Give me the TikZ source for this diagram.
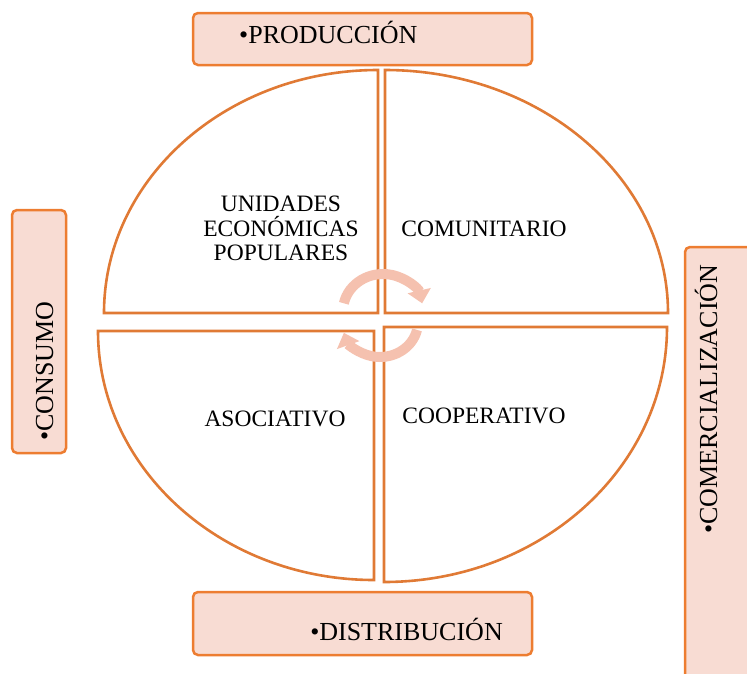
\documentclass[tikz,border=0pt]{standalone}
\usepackage{fontspec}
\setmainfont{Liberation Serif}
\usetikzlibrary{arrows.meta}
\definecolor{qline}{HTML}{E07A35}
\definecolor{bline}{HTML}{ED7D31}
\definecolor{bfill}{HTML}{F8DCD3}
\definecolor{arr}{HTML}{F5C1AF}
\begin{document}
\begin{tikzpicture}[x=1pt,y=-1pt,
 quad/.style={draw=qline, line width=2.6pt, fill=white, line join=miter},
 box/.style={draw=bline, fill=bfill, line width=2.5pt, rounded corners=5pt},
 big/.style={font=\fontsize{26}{30}\selectfont, inner sep=0pt},
 inner/.style={font=\fontsize{23.5}{24.7}\selectfont, inner sep=0pt},
 cyc/.style={draw=arr, line width=10pt, -{Triangle[width=23pt,length=13pt]}}]
\useasboundingbox (0,0) rectangle (747,673);
\clip (0,0) rectangle (747,673);
% quadrants
\draw[quad] (378,313) -- (104,313) arc[start angle=180, end angle=270, x radius=274, y radius=243] -- cycle;
\draw[quad] (385,313) -- (385,70) arc[start angle=270, end angle=360, x radius=283, y radius=243] -- cycle;
\draw[quad] (384,327) -- (667,327) arc[start angle=0, end angle=90, x radius=283, y radius=255] -- cycle;
\draw[quad] (374,331) -- (374,580) arc[start angle=90, end angle=180, x radius=276, y radius=249] -- cycle;
% boxes
\draw[box] (193,13) rectangle (532,65);
\draw[box] (193,592) rectangle (532,655);
\draw[box] (12,210) rectangle (66,453);
\draw[box] (685,247) rectangle (770,700);
% circular arrows
\draw[cyc] (383,311) ++(192:40 and 37) arc[start angle=192, end angle=348, x radius=40, y radius=37];
\draw[cyc] (380,322) ++(13:38 and 35) arc[start angle=13, end angle=162, x radius=38, y radius=35];
% texts
\node[big, anchor=base west] (prod) at (239,43) {•PRODUCCIÓN};
\node[big, anchor=base east] (dist) at (503,640) {•DISTRIBUCIÓN};
\node[big, rotate=90, anchor=base west] (cons) at (53,441) {•CONSUMO};
\node[big, rotate=90, anchor=base west] (come) at (717,534) {•COMERCIALIZACIÓN};
\node[inner, align=center] (uep) at (281,228.6) {UNIDADES\\ECONÓMICAS\\POPULARES};
\node[inner, anchor=base] (comu) at (484,236) {COMUNITARIO};
\node[inner, anchor=base] (asoc) at (275,426) {ASOCIATIVO};
\node[inner, anchor=base] (coop) at (484,423) {COOPERATIVO};
\end{tikzpicture}
\end{document}
